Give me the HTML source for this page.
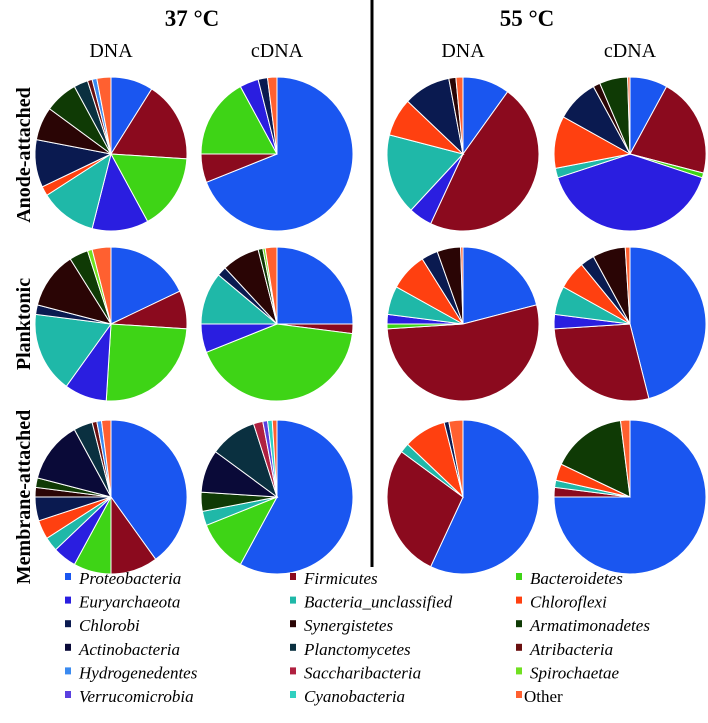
<!DOCTYPE html>
<html><head><meta charset="utf-8"><style>
html,body{margin:0;padding:0;background:#fff;}
svg{display:block;font-family:"Liberation Serif",serif;}
</style></head><body>
<svg id="chart" width="708" height="723" viewBox="0 0 708 723">
<text x="192" y="26" text-anchor="middle" font-size="23" font-weight="bold">37 °C</text>
<text x="527" y="26" text-anchor="middle" font-size="23" font-weight="bold">55 °C</text>
<text x="111" y="57" text-anchor="middle" font-size="20">DNA</text>
<text x="277" y="57" text-anchor="middle" font-size="20">cDNA</text>
<text x="463" y="57" text-anchor="middle" font-size="20">DNA</text>
<text x="630" y="57" text-anchor="middle" font-size="20">cDNA</text>
<line x1="372" y1="0" x2="372" y2="567" stroke="#000" stroke-width="3"/>
<text transform="translate(30,155) rotate(-90)" text-anchor="middle" font-size="20" font-weight="bold">Anode-attached</text>
<text transform="translate(30,324) rotate(-90)" text-anchor="middle" font-size="20" font-weight="bold">Planktonic</text>
<text transform="translate(30,497) rotate(-90)" text-anchor="middle" font-size="20" font-weight="bold">Membrane-attached</text>
<g id="pies"></g>
<g id="legend"></g>
</svg>
<script>
const categories = ["Proteobacteria","Firmicutes","Bacteroidetes","Euryarchaeota","Bacteria_unclassified","Chloroflexi","Chlorobi","Synergistetes","Armatimonadetes","Actinobacteria","Planctomycetes","Atribacteria","Hydrogenedentes","Saccharibacteria","Spirochaetae","Verrucomicrobia","Cyanobacteria","Other"];
const colors = ["#1a56f0","#8b0a1e","#3ed416","#2a1ee0","#1fb8a8","#ff4010","#0a1a50","#2a0505","#0f3a05","#0a0a38","#0a3040","#6a0f0f","#3a8af0","#b02040","#70e020","#5a40e0","#30d0c0","#ff6030"];
const sampleNames = ["anode-dna-37","anode-cdna-37","anode-dna-55","anode-cdna-55","plank-dna-37","plank-cdna-37","plank-dna-55","plank-cdna-55","membrane-dna-37","membrane-cdna-37","membrane-dna-55","membrane-cdna-55"];
const anodeDna37   = [9,17,16,12,12,2,10,7,7,0,3,1,1,0,0,0,0,3];
const anodeCdna37  = [69,6,17,4,0,0,2,0,0,0,0,0,0,0,0,0,0,2];
const anodeDna55   = [10,47,0,5,17,8,10,1.5,0,0,0,0,0,0,0,0,0,1.5];
const anodeCdna55  = [8,21,1,40,2,11,9,1.5,6,0,0,0,0,0,0,0,0,0.5];
const plankDna37   = [18,8,25,9,17,0,2,12,4,0,0,0,0,0,1,0,0,4];
const plankCdna37  = [25,2,42,6,11,0,2,8,1,0,0,0,0,0,0.5,0,0,2.5];
const plankDna55   = [21,53,1,2,6,8,3.5,5,0,0,0,0,0,0,0,0,0,0.5];
const plankCdna55  = [46,28,0,3,6,6,3,7,0,0,0,0,0,0,0,0,0,1];
const memDna37     = [40,10,8,5,3,4,5,2,2,13,4,1,1,0,0,0,0,2];
const memCdna37    = [58,0,11,0,3,0,0,0,4,9,10,0,0,2,0,1,1,1];
const memDna55     = [57,28,0,0,2,9,1,0,0,0,0,0,0,0,0,0,0,3];
const memCdna55    = [75,2,0,0,1.5,3.5,0,0,16,0,0,0,0,0,0,0,0,2];
const series = [anodeDna37,anodeCdna37,anodeDna55,anodeCdna55,plankDna37,plankCdna37,plankDna55,plankCdna55,memDna37,memCdna37,memDna55,memCdna55];

const NS="http://www.w3.org/2000/svg";
const colX=[111,277,463,630], rowY=[154,324,497], RX=76, RY=77;
const pies=document.getElementById('pies');
function pt(cx,cy,a){return [cx+RX*Math.sin(a), cy-RY*Math.cos(a)];}
series.forEach((vals,i)=>{
  const cx=colX[i%4], cy=rowY[Math.floor(i/4)];
  const g=document.createElementNS(NS,'g');
  
  
  pies.appendChild(g);
  const total=vals.reduce((a,b)=>a+b,0);
  let acc=0;
  vals.forEach((v,k)=>{
    if(v<=0) return;
    const a0=acc/total*2*Math.PI; acc+=v; const a1=acc/total*2*Math.PI;
    const p0=pt(cx,cy,a0), p1=pt(cx,cy,a1);
    const large=(a1-a0)>Math.PI?1:0;
    const p=document.createElementNS(NS,'path');
    p.setAttribute('d',`M${cx},${cy}L${p0[0]},${p0[1]}A${RX},${RY} 0 ${large} 1 ${p1[0]},${p1[1]}Z`);
    p.setAttribute('fill',colors[k]);
    p.setAttribute('stroke','#fff');
    p.setAttribute('stroke-width','1');
    
    
    g.appendChild(p);
  });
});
const leg=document.getElementById('legend');
const legX=[65,290,516], legY0=578, legDy=23.6;
categories.forEach((c,k)=>{
  const x=legX[k%3], y=legY0+Math.floor(k/3)*legDy;
  const g=document.createElementNS(NS,'g');
  
  
  const r=document.createElementNS(NS,'rect');
  r.setAttribute('x',x);r.setAttribute('y',y-5);r.setAttribute('width',6);r.setAttribute('height',7);
  r.setAttribute('fill',colors[k]);
  const t=document.createElementNS(NS,'text');
  t.setAttribute('x',c==="Other"?x+8:x+14);t.setAttribute('y',y+6);
  t.setAttribute('font-size','17');
  if(c!=="Other") t.setAttribute('font-style','italic');
  t.textContent=c;
  g.appendChild(r);g.appendChild(t);leg.appendChild(g);
});
</script>
</body></html>
